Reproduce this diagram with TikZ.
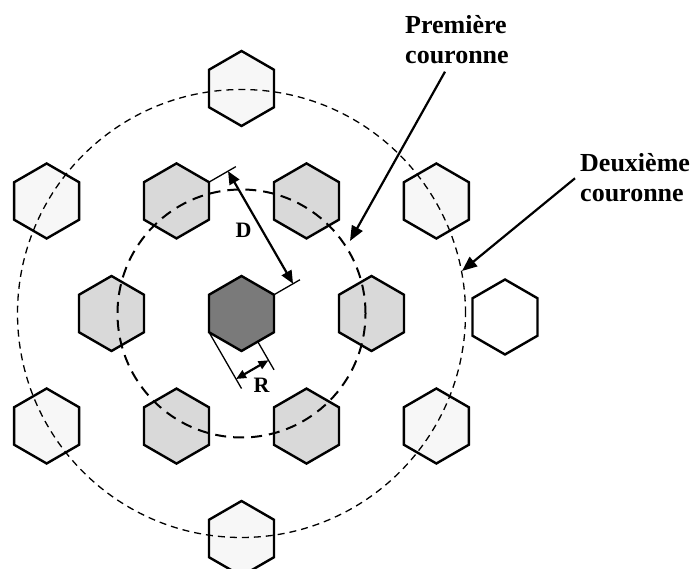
\documentclass[tikz,border=0pt]{standalone}
\usepackage{fontspec}
\setmainfont{Liberation Serif}
\usetikzlibrary{shapes.geometric,arrows.meta,calc}
\definecolor{centrefill}{HTML}{7A7A7A}
\definecolor{ringonefill}{HTML}{D9D9D9}
\definecolor{ringtwofill}{HTML}{F7F7F7}
\begin{document}
\begin{tikzpicture}[x=1pt,y=1pt,
  cell/.style={regular polygon, regular polygon sides=6, shape border rotate=30,
    minimum size=75pt, inner sep=0pt, outer sep=0pt, draw=black, line width=2.4pt},
  cellcentre/.style={cell, fill=centrefill},
  cellone/.style={cell, fill=ringonefill},
  celltwo/.style={cell, fill=ringtwofill},
  cellfree/.style={cell, fill=white},
  ringone/.style={draw=black, line width=2pt, dash pattern=on 11pt off 7pt},
  ringtwo/.style={draw=black, line width=1.3pt, dash pattern=on 7pt off 5pt},
  extline/.style={draw=black, line width=1.3pt},
  dimbig/.style={draw=black, line width=2.2pt, {Triangle[length=13pt,width=11pt]}-{Triangle[length=13pt,width=11pt]}},
  dimsmall/.style={draw=black, line width=2.2pt, {Triangle[length=10pt,width=8.5pt]}-{Triangle[length=10pt,width=8.5pt]}},
  callout/.style={draw=black, line width=2.2pt, -{Triangle[length=15pt,width=12pt]}},
  dimlabel/.style={font=\fontsize{22}{26}\selectfont\bfseries, inner sep=0pt},
  ringlabel/.style={font=\fontsize{26}{30}\selectfont\bfseries, align=left, inner sep=0pt, anchor=north west}
]
\useasboundingbox (0,0) rectangle (695,569);

% cell layout: central cell, first and second co-channel rings
\coordinate (O) at (241.5,255.5);
\node[cellcentre] (c0) at (O) {};
\foreach \a [count=\i from 0] in {0,60,120,180,240,300}
  \node[cellone] (i\i) at ($(O)+(\a:130)$) {};
\foreach \a [count=\i from 0] in {30,90,150,210,270,330}
  \node[celltwo] (o\i) at ($(O)+(\a:225)$) {};
\node[cellfree] (w) at (505,252) {};

% dashed rings through the co-channel cells
\draw[ringone] (O) circle[radius=124];
\draw[ringtwo] (O) circle[radius=224];

% reuse distance D between centre cell and a first-ring cell
\coordinate (d1) at ($(i2.center)+(30:37.5)$);
\coordinate (d2) at ($(c0.center)+(30:37.5)$);
\draw[extline] (d1) -- ($(d1)+(30:31)$);
\draw[extline] (d2) -- ($(d2)+(30:30)$);
\draw[dimbig] ($(d1)+(30:22)$) -- ($(d2)+(30:22)$);
\node[dimlabel] (dl) at ($(O)+(2,83)$) {D};

% cell radius R
\coordinate (r1) at ($(O)+(210:37.5)$);
\coordinate (r2) at ($(O)+(-60:32.5)$);
\draw[extline] (r1) -- ($(r1)+(-60:65)$);
\draw[extline] (r2) -- ($(r2)+(-60:32.5)$);
\draw[dimsmall] ($(r1)+(-60:54)$) -- ($(r2)+(-60:21.5)$);
\node[dimlabel] (rl) at ($(O)+(20,-71.5)$) {R};

% ring captions with pointers
\node[ringlabel] (l1) at (405,554) {Première\\couronne};
\node[ringlabel] (l2) at (580,415.5) {Deuxième\\couronne};
\coordinate (p1) at (445,497.3);
\coordinate (p2) at (350,328);
\coordinate (q1) at (575,390.7);
\coordinate (q2) at (462,298);
\draw[callout] (p1) -- (p2);
\draw[callout] (q1) -- (q2);
\end{tikzpicture}
\end{document}
